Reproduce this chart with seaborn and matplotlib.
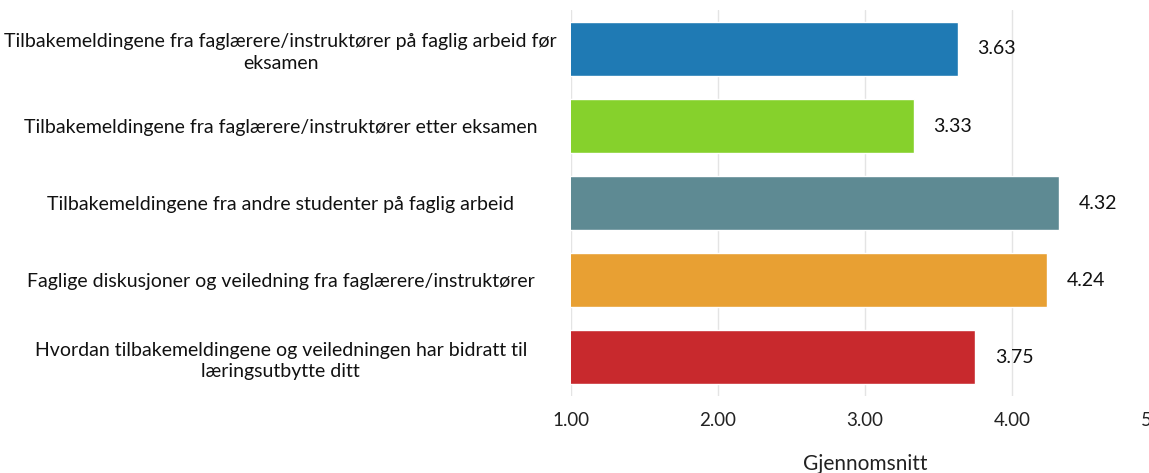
import matplotlib
matplotlib.use("Agg")
import matplotlib.pyplot as plt
import seaborn as sns
import pandas as pd

categories = [
    "Tilbakemeldingene fra faglærere/instruktører på faglig arbeid før\neksamen",
    "Tilbakemeldingene fra faglærere/instruktører etter eksamen",
    "Tilbakemeldingene fra andre studenter på faglig arbeid",
    "Faglige diskusjoner og veiledning fra faglærere/instruktører",
    "Hvordan tilbakemeldingene og veiledningen har bidratt til\nlæringsutbytte ditt",
]
values = [3.63, 3.33, 4.32, 4.24, 3.75]
colors = ["#1f7ab4", "#86d12c", "#5e8a93", "#e8a033", "#c8292d"]
xticks = [1, 2, 3, 4, 5]
xlabel = "Gjennomsnitt"

sns.set_theme(style="white")
plt.rcParams["font.family"] = ["Lato", "DejaVu Sans"]

df = pd.DataFrame({"cat": categories, "val": values})

fig = plt.figure(figsize=(11.49, 4.73), dpi=100)
ax = fig.add_axes([571 / 1149, 77.5 / 473, 588 / 1149, 385 / 473])

sns.barplot(data=df, x="val", y="cat", hue="cat", palette=colors,
            saturation=1, orient="h", width=0.7, legend=False, ax=ax, zorder=2)

ax.set_xlim(1, 5)
ax.set_xticks(xticks)
ax.set_xticklabels([f"{t:.2f}" for t in xticks], fontsize=13.5, color="#222222")
ax.tick_params(axis="x", length=0, pad=12)
ax.set_xlabel(xlabel, fontsize=15, color="#222222", labelpad=18)
ax.set_ylabel("")

ax.tick_params(axis="y", length=0, pad=209)
for lab in ax.get_yticklabels():
    lab.set_horizontalalignment("center")
    lab.set_multialignment("center")
    lab.set_linespacing(1.35)
    lab.set_fontsize(14)
    lab.set_color("#111111")

ax.grid(axis="x", color="#e4e4e4", linewidth=1, zorder=0)
ax.grid(axis="y", visible=False)
for s in ax.spines.values():
    s.set_visible(False)

for c in ax.containers:
    ax.bar_label(c, fmt="%.2f", padding=14, fontsize=14, color="#111111")

fig.savefig("out.png", dpi=100)
